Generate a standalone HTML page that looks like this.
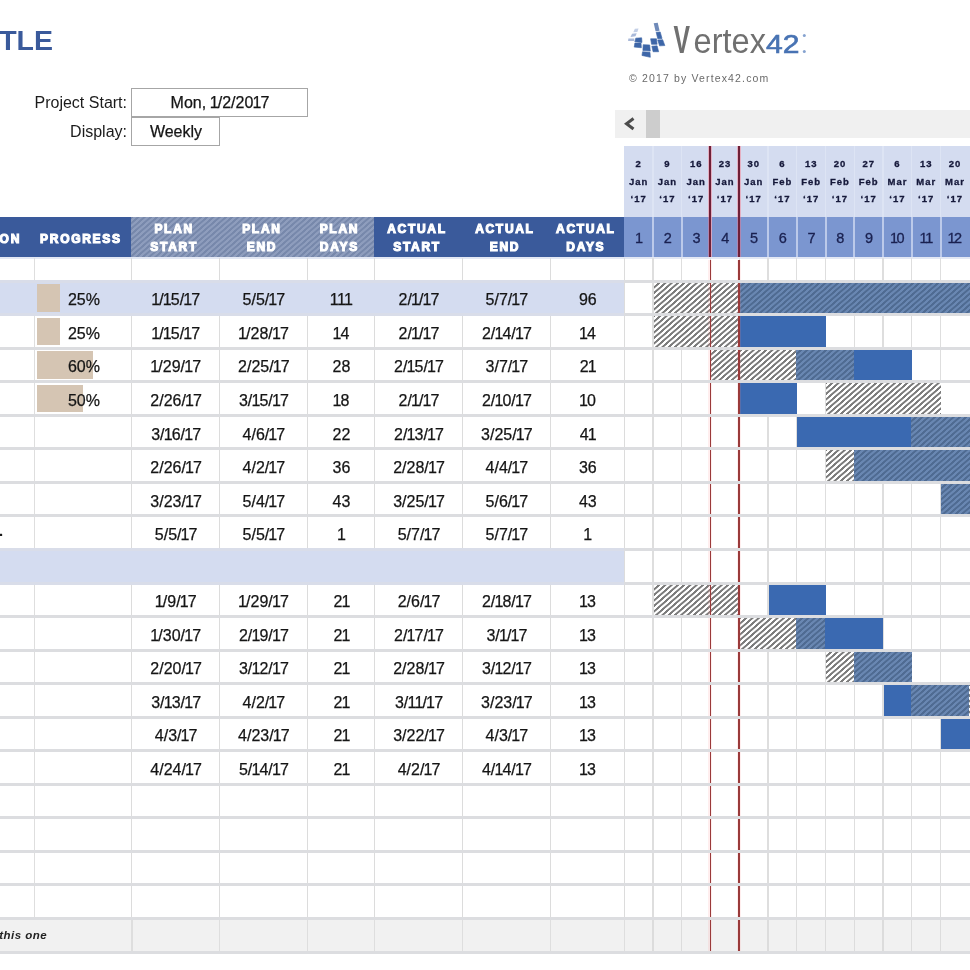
<!DOCTYPE html>
<html><head><meta charset="utf-8"><title>Project Gantt Chart</title>
<style>
html,body{margin:0;padding:0;background:#fff;}
body{width:970px;height:970px;position:relative;overflow:hidden;font-family:"Liberation Sans",sans-serif;color:#1b1b1b;}
.a{position:absolute;}
.t{position:absolute;white-space:nowrap;}
.c{position:absolute;text-align:center;white-space:nowrap;font-size:16px;line-height:20px;height:20px;color:#151515;-webkit-text-stroke:0.25px #151515;}
.c i{font-style:normal;margin:0 -0.9px;}
.h{position:absolute;text-align:center;white-space:nowrap;font-weight:bold;font-size:12px;letter-spacing:1.7px;line-height:18px;color:#fff;-webkit-text-stroke:1.1px #fff;}
.d{position:absolute;text-align:center;white-space:nowrap;font-weight:bold;font-size:9.5px;line-height:17.5px;color:#15183a;letter-spacing:1px;-webkit-text-stroke:0.3px #15183a;}
.n{position:absolute;text-align:center;white-space:nowrap;font-size:14.5px;line-height:16px;color:#1a2150;letter-spacing:-0.6px;-webkit-text-stroke:0.3px #1a2150;}
.n i{font-style:normal;margin:0 -0.9px;}
.hp{background:repeating-linear-gradient(138.7deg,#7c7c7c 0,#7c7c7c 1.5px,#fff 2.0px,#fff 3.63px,#7c7c7c 4.13px);}
.ho{background:repeating-linear-gradient(138.7deg,#4f6b92 0,#4f6b92 1.5px,#6987b2 2.0px,#6987b2 3.63px,#4f6b92 4.13px);}
.hh{background:repeating-linear-gradient(138.7deg,#7788ab 0,#7788ab 1.5px,#8e9dbd 2.0px,#8e9dbd 3.63px,#7788ab 4.13px);}
</style></head><body>

<div class="t" style="right:917px;top:24px;font-size:28.5px;line-height:32px;font-weight:bold;color:#3a5a9b;">PROJECT TITLE</div>
<div class="t" style="right:843px;top:93px;font-size:16px;line-height:20px;">Project Start:</div>
<div class="t" style="right:843px;top:122px;font-size:16px;line-height:20px;">Display:</div>
<div class="a" style="left:131.3px;top:88.2px;width:175px;height:27px;border:1px solid #a6a6a6;"></div>
<div class="a" style="left:131.3px;top:117.2px;width:87px;height:27px;border:1px solid #a6a6a6;"></div>
<div class="c" style="left:132px;width:176px;top:92.5px;">Mon, <i>1</i>/2/20<i>1</i>7</div>
<div class="c" style="left:132px;width:88px;top:121.7px;">Weekly</div>
<svg class="a" style="left:620px;top:14px;" width="60" height="50" viewBox="0 0 970 808">
<g fill="#3d66a8" stroke="#3d66a8" stroke-width="10">
<polygon points="585,295 650,290 680,395 610,400"/>
<polygon points="610,420 690,415 725,510 640,515"/>
<polygon points="495,400 590,400 600,490 510,490"/>
<polygon points="515,520 600,515 625,610 535,610"/>
<polygon points="375,495 480,500 490,600 370,590"/>
<polygon points="365,610 485,620 490,700 355,670"/>
<polygon points="255,390 350,385 355,460 240,450"/>
<polygon points="240,470 340,470 345,545 230,535"/>
</g>
<polygon points="545,150 610,140 640,270 575,280" fill="#6f8ab9"/>
<g fill="#a9b9d9">
<polygon points="195,320 270,310 250,360 170,370"/>
<polygon points="135,395 230,395 230,435 130,435"/>
</g>
<polygon points="240,240 300,235 280,290 215,295" fill="#c3cfe6"/>
</svg>
<svg class="a" style="left:670px;top:14px;" width="150" height="50" viewBox="0 0 150 50">
<text font-family="Liberation Sans, sans-serif" fill="#707070">
<tspan x="3.5" y="39.2" font-size="39" font-weight="bold" textLength="16.5" lengthAdjust="spacingAndGlyphs">V</tspan><tspan x="23.5" y="39.2" font-size="35.6" textLength="72.5" lengthAdjust="spacingAndGlyphs">ertex</tspan><tspan x="96" y="39.2" font-size="25.8" fill="#4873b3" stroke="#4873b3" stroke-width="0.6" textLength="33.5" lengthAdjust="spacingAndGlyphs">42</tspan></text>
<circle cx="134.3" cy="21.5" r="1.5" fill="#86a3d0"/><circle cx="134.3" cy="37.5" r="1.5" fill="#86a3d0"/>
</svg>
<div class="t" style="left:629px;top:72px;font-size:10.5px;line-height:13px;letter-spacing:1.15px;color:#6a6a6a;">© 2017 by Vertex42.com</div>
<div class="a" style="left:614.5px;top:110px;width:356px;height:28.3px;background:#f0f0f0;"></div>
<div class="a" style="left:646px;top:110px;width:14px;height:28.3px;background:#cdcdcd;"></div>
<svg class="a" style="left:622px;top:116px;" width="14" height="16" viewBox="0 0 14 16"><polyline points="11.5,2.5 4.5,7.7 11.5,13" fill="none" stroke="#4c4c4c" stroke-width="3"/></svg>
<div class="a" style="left:623.5px;top:146px;width:346.70000000000005px;height:70.5px;background:#d4dcf0;"></div>
<div class="a" style="left:623.5px;top:216.5px;width:346.70000000000005px;height:40.6px;background:#7b96d0;"></div>
<div class="d" style="left:624.30px;width:28.75px;top:155.3px;">2<br>Jan<br>‘17</div>
<div class="n" style="left:624.30px;width:28.75px;top:229.5px;"><i>1</i></div>
<div class="a" style="left:652.25px;top:146px;width:1.4px;height:70.5px;background:#dde4f4;"></div>
<div class="a" style="left:652.15px;top:216.5px;width:2px;height:40.6px;background:#bccaea;"></div>
<div class="d" style="left:653.05px;width:28.75px;top:155.3px;">9<br>Jan<br>‘17</div>
<div class="n" style="left:653.05px;width:28.75px;top:229.5px;">2</div>
<div class="a" style="left:681.00px;top:146px;width:1.4px;height:70.5px;background:#dde4f4;"></div>
<div class="a" style="left:680.90px;top:216.5px;width:2px;height:40.6px;background:#bccaea;"></div>
<div class="d" style="left:681.80px;width:28.75px;top:155.3px;">16<br>Jan<br>‘17</div>
<div class="n" style="left:681.80px;width:28.75px;top:229.5px;">3</div>
<div class="a" style="left:709.75px;top:146px;width:1.4px;height:70.5px;background:#dde4f4;"></div>
<div class="a" style="left:709.65px;top:216.5px;width:2px;height:40.6px;background:#bccaea;"></div>
<div class="d" style="left:710.55px;width:28.75px;top:155.3px;">23<br>Jan<br>‘17</div>
<div class="n" style="left:710.55px;width:28.75px;top:229.5px;">4</div>
<div class="a" style="left:738.50px;top:146px;width:1.4px;height:70.5px;background:#dde4f4;"></div>
<div class="a" style="left:738.40px;top:216.5px;width:2px;height:40.6px;background:#bccaea;"></div>
<div class="d" style="left:739.30px;width:28.75px;top:155.3px;">30<br>Jan<br>‘17</div>
<div class="n" style="left:739.30px;width:28.75px;top:229.5px;">5</div>
<div class="a" style="left:767.25px;top:146px;width:1.4px;height:70.5px;background:#dde4f4;"></div>
<div class="a" style="left:767.15px;top:216.5px;width:2px;height:40.6px;background:#bccaea;"></div>
<div class="d" style="left:768.05px;width:28.75px;top:155.3px;">6<br>Feb<br>‘17</div>
<div class="n" style="left:768.05px;width:28.75px;top:229.5px;">6</div>
<div class="a" style="left:796.00px;top:146px;width:1.4px;height:70.5px;background:#dde4f4;"></div>
<div class="a" style="left:795.90px;top:216.5px;width:2px;height:40.6px;background:#bccaea;"></div>
<div class="d" style="left:796.80px;width:28.75px;top:155.3px;">13<br>Feb<br>‘17</div>
<div class="n" style="left:796.80px;width:28.75px;top:229.5px;">7</div>
<div class="a" style="left:824.75px;top:146px;width:1.4px;height:70.5px;background:#dde4f4;"></div>
<div class="a" style="left:824.65px;top:216.5px;width:2px;height:40.6px;background:#bccaea;"></div>
<div class="d" style="left:825.55px;width:28.75px;top:155.3px;">20<br>Feb<br>‘17</div>
<div class="n" style="left:825.55px;width:28.75px;top:229.5px;">8</div>
<div class="a" style="left:853.50px;top:146px;width:1.4px;height:70.5px;background:#dde4f4;"></div>
<div class="a" style="left:853.40px;top:216.5px;width:2px;height:40.6px;background:#bccaea;"></div>
<div class="d" style="left:854.30px;width:28.75px;top:155.3px;">27<br>Feb<br>‘17</div>
<div class="n" style="left:854.30px;width:28.75px;top:229.5px;">9</div>
<div class="a" style="left:882.25px;top:146px;width:1.4px;height:70.5px;background:#dde4f4;"></div>
<div class="a" style="left:882.15px;top:216.5px;width:2px;height:40.6px;background:#bccaea;"></div>
<div class="d" style="left:883.05px;width:28.75px;top:155.3px;">6<br>Mar<br>‘17</div>
<div class="n" style="left:883.05px;width:28.75px;top:229.5px;"><i>1</i>0</div>
<div class="a" style="left:911.00px;top:146px;width:1.4px;height:70.5px;background:#dde4f4;"></div>
<div class="a" style="left:910.90px;top:216.5px;width:2px;height:40.6px;background:#bccaea;"></div>
<div class="d" style="left:911.80px;width:28.75px;top:155.3px;">13<br>Mar<br>‘17</div>
<div class="n" style="left:911.80px;width:28.75px;top:229.5px;"><i>1</i><i>1</i></div>
<div class="a" style="left:939.75px;top:146px;width:1.4px;height:70.5px;background:#dde4f4;"></div>
<div class="a" style="left:939.65px;top:216.5px;width:2px;height:40.6px;background:#bccaea;"></div>
<div class="d" style="left:940.55px;width:28.75px;top:155.3px;">20<br>Mar<br>‘17</div>
<div class="n" style="left:940.55px;width:28.75px;top:229.5px;"><i>1</i>2</div>
<div class="a" style="left:0;top:216.5px;width:623.5px;height:40.6px;background:#3a5a9b;"></div>
<div class="a hh" style="left:131.20000000000002px;top:216.5px;width:243.29999999999998px;height:40.6px;"></div>
<div class="h" style="left:-29px;width:50px;top:229.5px;text-align:right;">ON</div>
<div class="h" style="left:32.0px;width:97.80000000000001px;top:229.5px;">PROGRESS</div>
<div class="h" style="left:130.3px;width:87.69999999999999px;top:220.3px;">PLAN<br>START</div>
<div class="h" style="left:218.0px;width:87.80000000000001px;top:220.3px;">PLAN<br>END</div>
<div class="h" style="left:305.8px;width:67.19999999999999px;top:220.3px;">PLAN<br>DAYS</div>
<div class="h" style="left:373.0px;width:88.0px;top:220.3px;">ACTUAL<br>START</div>
<div class="h" style="left:461.0px;width:87.79999999999995px;top:220.3px;">ACTUAL<br>END</div>
<div class="h" style="left:548.8px;width:74.0px;top:220.3px;">ACTUAL<br>DAYS</div>
<div class="a" style="left:0;top:257.1px;width:970px;height:2px;background:#e3e8f4;"></div>
<div class="a" style="left:34px;top:258px;width:1.2px;height:694.00px;background:#dedede;"></div>
<div class="a" style="left:131.15px;top:258px;width:1.3px;height:694.00px;background:#dcdcdc;"></div>
<div class="a" style="left:218.85px;top:258px;width:1.3px;height:694.00px;background:#dcdcdc;"></div>
<div class="a" style="left:306.65px;top:258px;width:1.3px;height:694.00px;background:#dcdcdc;"></div>
<div class="a" style="left:373.85px;top:258px;width:1.3px;height:694.00px;background:#dcdcdc;"></div>
<div class="a" style="left:461.85px;top:258px;width:1.3px;height:694.00px;background:#dcdcdc;"></div>
<div class="a" style="left:549.65px;top:258px;width:1.3px;height:694.00px;background:#dcdcdc;"></div>
<div class="a" style="left:623.65px;top:258px;width:1.3px;height:694.00px;background:#dcdcdc;"></div>
<div class="a" style="left:652.40px;top:258px;width:1.3px;height:694.00px;background:#dedede;"></div>
<div class="a" style="left:681.15px;top:258px;width:1.3px;height:694.00px;background:#dedede;"></div>
<div class="a" style="left:709.90px;top:258px;width:1.3px;height:694.00px;background:#dedede;"></div>
<div class="a" style="left:738.65px;top:258px;width:1.3px;height:694.00px;background:#dedede;"></div>
<div class="a" style="left:767.40px;top:258px;width:1.3px;height:694.00px;background:#dedede;"></div>
<div class="a" style="left:796.15px;top:258px;width:1.3px;height:694.00px;background:#dedede;"></div>
<div class="a" style="left:824.90px;top:258px;width:1.3px;height:694.00px;background:#dedede;"></div>
<div class="a" style="left:853.65px;top:258px;width:1.3px;height:694.00px;background:#dedede;"></div>
<div class="a" style="left:882.40px;top:258px;width:1.3px;height:694.00px;background:#dedede;"></div>
<div class="a" style="left:911.15px;top:258px;width:1.3px;height:694.00px;background:#dedede;"></div>
<div class="a" style="left:939.90px;top:258px;width:1.3px;height:694.00px;background:#dedede;"></div>
<div class="a" style="left:0;top:281.20px;width:623.5px;height:33.54px;background:#d4dcf0;"></div>
<div class="a" style="left:0;top:549.52px;width:623.5px;height:33.54px;background:#d4dcf0;"></div>
<div class="a" style="left:0;top:918.46px;width:970px;height:33.54px;background:#f1f1f1;"></div>
<div class="a" style="left:131.00px;top:918.46px;width:1.6px;height:33.54px;background:#dedede;"></div>
<div class="a" style="left:218.70px;top:918.46px;width:1.6px;height:33.54px;background:#dedede;"></div>
<div class="a" style="left:306.50px;top:918.46px;width:1.6px;height:33.54px;background:#dedede;"></div>
<div class="a" style="left:373.70px;top:918.46px;width:1.6px;height:33.54px;background:#dedede;"></div>
<div class="a" style="left:461.70px;top:918.46px;width:1.6px;height:33.54px;background:#dedede;"></div>
<div class="a" style="left:549.50px;top:918.46px;width:1.6px;height:33.54px;background:#dedede;"></div>
<div class="a" style="left:623.50px;top:918.46px;width:1.6px;height:33.54px;background:#dedede;"></div>
<div class="a" style="left:652.35px;top:918.46px;width:1.4px;height:33.54px;background:#dcdcdc;"></div>
<div class="a" style="left:681.10px;top:918.46px;width:1.4px;height:33.54px;background:#dcdcdc;"></div>
<div class="a" style="left:709.85px;top:918.46px;width:1.4px;height:33.54px;background:#dcdcdc;"></div>
<div class="a" style="left:738.60px;top:918.46px;width:1.4px;height:33.54px;background:#dcdcdc;"></div>
<div class="a" style="left:767.35px;top:918.46px;width:1.4px;height:33.54px;background:#dcdcdc;"></div>
<div class="a" style="left:796.10px;top:918.46px;width:1.4px;height:33.54px;background:#dcdcdc;"></div>
<div class="a" style="left:824.85px;top:918.46px;width:1.4px;height:33.54px;background:#dcdcdc;"></div>
<div class="a" style="left:853.60px;top:918.46px;width:1.4px;height:33.54px;background:#dcdcdc;"></div>
<div class="a" style="left:882.35px;top:918.46px;width:1.4px;height:33.54px;background:#dcdcdc;"></div>
<div class="a" style="left:911.10px;top:918.46px;width:1.4px;height:33.54px;background:#dcdcdc;"></div>
<div class="a" style="left:939.85px;top:918.46px;width:1.4px;height:33.54px;background:#dcdcdc;"></div>
<div class="a hp" style="left:653.65px;top:281.20px;width:85.95px;height:33.54px;"></div>
<div class="a ho" style="left:738.90px;top:281.20px;width:231.10px;height:33.54px;"></div>
<div class="a hp" style="left:653.65px;top:314.74px;width:85.95px;height:33.54px;"></div>
<div class="a " style="left:738.90px;top:314.74px;width:86.95px;height:33.54px;background:#3a69b1;"></div>
<div class="a hp" style="left:711.15px;top:348.28px;width:85.95px;height:33.54px;"></div>
<div class="a ho" style="left:796.40px;top:348.28px;width:58.20px;height:33.54px;"></div>
<div class="a " style="left:853.90px;top:348.28px;width:58.20px;height:33.54px;background:#3a69b1;"></div>
<div class="a " style="left:739.90px;top:381.82px;width:57.20px;height:33.54px;background:#3a69b1;"></div>
<div class="a hp" style="left:826.15px;top:381.82px;width:114.70px;height:33.54px;"></div>
<div class="a " style="left:797.40px;top:415.36px;width:114.70px;height:33.54px;background:#3a69b1;"></div>
<div class="a ho" style="left:911.40px;top:415.36px;width:58.60px;height:33.54px;"></div>
<div class="a hp" style="left:826.15px;top:448.90px;width:28.45px;height:33.54px;"></div>
<div class="a ho" style="left:853.90px;top:448.90px;width:116.10px;height:33.54px;"></div>
<div class="a ho" style="left:941.15px;top:482.44px;width:28.85px;height:33.54px;"></div>
<div class="a hp" style="left:653.65px;top:583.06px;width:85.95px;height:33.54px;"></div>
<div class="a " style="left:768.65px;top:583.06px;width:57.20px;height:33.54px;background:#3a69b1;"></div>
<div class="a hp" style="left:739.90px;top:616.60px;width:57.20px;height:33.54px;"></div>
<div class="a ho" style="left:796.40px;top:616.60px;width:29.45px;height:33.54px;"></div>
<div class="a " style="left:825.15px;top:616.60px;width:58.20px;height:33.54px;background:#3a69b1;"></div>
<div class="a hp" style="left:826.15px;top:650.14px;width:28.45px;height:33.54px;"></div>
<div class="a ho" style="left:853.90px;top:650.14px;width:58.20px;height:33.54px;"></div>
<div class="a " style="left:883.65px;top:683.68px;width:28.45px;height:33.54px;background:#3a69b1;"></div>
<div class="a ho" style="left:911.40px;top:683.68px;width:58.20px;height:33.54px;"></div>
<div class="a hp" style="left:968.90px;top:683.68px;width:1.10px;height:33.54px;"></div>
<div class="a " style="left:941.15px;top:717.22px;width:28.85px;height:33.54px;background:#3a69b1;"></div>
<div class="a" style="left:708.05px;top:145.5px;width:4.2px;height:111.60000000000002px;background:rgba(255,110,125,0.4);"></div>
<div class="a" style="left:709.25px;top:145.5px;width:1.8px;height:111.60000000000002px;background:#6e2038;"></div>
<div class="a" style="left:708.25px;top:259.5px;width:3.8px;height:692.50px;background:rgba(255,140,140,0.15);"></div>
<div class="a" style="left:709.50px;top:259.5px;width:1.3px;height:692.50px;background:#9a3a3a;"></div>
<div class="a" style="left:736.80px;top:145.5px;width:4.2px;height:111.60000000000002px;background:rgba(255,110,125,0.4);"></div>
<div class="a" style="left:738.00px;top:145.5px;width:1.8px;height:111.60000000000002px;background:#6e2038;"></div>
<div class="a" style="left:737.00px;top:259.5px;width:3.8px;height:692.50px;background:rgba(255,140,140,0.15);"></div>
<div class="a" style="left:738.25px;top:259.5px;width:1.3px;height:692.50px;background:#9a3a3a;"></div>
<div class="a" style="left:0;top:279.70px;width:970px;height:3px;background:#dcdde0;"></div>
<div class="a" style="left:0;top:279.70px;width:623.5px;height:3px;background:#d9dde9;"></div>
<div class="a" style="left:0;top:313.24px;width:970px;height:3px;background:#dcdde0;"></div>
<div class="a" style="left:0;top:313.24px;width:623.5px;height:3px;background:#d9dde9;"></div>
<div class="a" style="left:0;top:346.78px;width:970px;height:3px;background:#dcdde0;"></div>
<div class="a" style="left:0;top:380.32px;width:970px;height:3px;background:#dcdde0;"></div>
<div class="a" style="left:0;top:413.86px;width:970px;height:3px;background:#dcdde0;"></div>
<div class="a" style="left:0;top:447.40px;width:970px;height:3px;background:#dcdde0;"></div>
<div class="a" style="left:0;top:480.94px;width:970px;height:3px;background:#dcdde0;"></div>
<div class="a" style="left:0;top:514.48px;width:970px;height:3px;background:#dcdde0;"></div>
<div class="a" style="left:0;top:548.02px;width:970px;height:3px;background:#dcdde0;"></div>
<div class="a" style="left:0;top:548.02px;width:623.5px;height:3px;background:#d9dde9;"></div>
<div class="a" style="left:0;top:581.56px;width:970px;height:3px;background:#dcdde0;"></div>
<div class="a" style="left:0;top:581.56px;width:623.5px;height:3px;background:#d9dde9;"></div>
<div class="a" style="left:0;top:615.10px;width:970px;height:3px;background:#dcdde0;"></div>
<div class="a" style="left:0;top:648.64px;width:970px;height:3px;background:#dcdde0;"></div>
<div class="a" style="left:0;top:682.18px;width:970px;height:3px;background:#dcdde0;"></div>
<div class="a" style="left:0;top:715.72px;width:970px;height:3px;background:#dcdde0;"></div>
<div class="a" style="left:0;top:749.26px;width:970px;height:3px;background:#dcdde0;"></div>
<div class="a" style="left:0;top:782.80px;width:970px;height:3px;background:#dcdde0;"></div>
<div class="a" style="left:0;top:816.34px;width:970px;height:3px;background:#dcdde0;"></div>
<div class="a" style="left:0;top:849.88px;width:970px;height:3px;background:#dcdde0;"></div>
<div class="a" style="left:0;top:883.42px;width:970px;height:3px;background:#dcdde0;"></div>
<div class="a" style="left:0;top:916.96px;width:970px;height:3px;background:#dcdde0;"></div>
<div class="a" style="left:0;top:950.50px;width:970px;height:3px;background:#dcdde0;"></div>
<div class="a" style="left:36.8px;top:284.40px;width:23.2px;height:27.14px;background:#d5c5b3;"></div>
<div class="c" style="left:35.0px;width:97.80000000000001px;top:290.37px;">25%</div>
<div class="c" style="left:132.3px;width:87.69999999999999px;top:290.37px;"><i>1</i>/<i>1</i>5/<i>1</i>7</div>
<div class="c" style="left:220.0px;width:87.80000000000001px;top:290.37px;">5/5/<i>1</i>7</div>
<div class="c" style="left:307.8px;width:67.19999999999999px;top:290.37px;"><i>1</i><i>1</i><i>1</i></div>
<div class="c" style="left:375.0px;width:88.0px;top:290.37px;">2/<i>1</i>/<i>1</i>7</div>
<div class="c" style="left:463.0px;width:87.79999999999995px;top:290.37px;">5/7/<i>1</i>7</div>
<div class="c" style="left:550.8px;width:74.0px;top:290.37px;">96</div>
<div class="a" style="left:36.8px;top:317.94px;width:23.2px;height:27.14px;background:#d5c5b3;"></div>
<div class="c" style="left:35.0px;width:97.80000000000001px;top:323.91px;">25%</div>
<div class="c" style="left:132.3px;width:87.69999999999999px;top:323.91px;"><i>1</i>/<i>1</i>5/<i>1</i>7</div>
<div class="c" style="left:220.0px;width:87.80000000000001px;top:323.91px;"><i>1</i>/28/<i>1</i>7</div>
<div class="c" style="left:307.8px;width:67.19999999999999px;top:323.91px;"><i>1</i>4</div>
<div class="c" style="left:375.0px;width:88.0px;top:323.91px;">2/<i>1</i>/<i>1</i>7</div>
<div class="c" style="left:463.0px;width:87.79999999999995px;top:323.91px;">2/<i>1</i>4/<i>1</i>7</div>
<div class="c" style="left:550.8px;width:74.0px;top:323.91px;"><i>1</i>4</div>
<div class="a" style="left:36.8px;top:351.48px;width:55.8px;height:27.14px;background:#d5c5b3;"></div>
<div class="c" style="left:35.0px;width:97.80000000000001px;top:357.45px;">60%</div>
<div class="c" style="left:132.3px;width:87.69999999999999px;top:357.45px;"><i>1</i>/29/<i>1</i>7</div>
<div class="c" style="left:220.0px;width:87.80000000000001px;top:357.45px;">2/25/<i>1</i>7</div>
<div class="c" style="left:307.8px;width:67.19999999999999px;top:357.45px;">28</div>
<div class="c" style="left:375.0px;width:88.0px;top:357.45px;">2/<i>1</i>5/<i>1</i>7</div>
<div class="c" style="left:463.0px;width:87.79999999999995px;top:357.45px;">3/7/<i>1</i>7</div>
<div class="c" style="left:550.8px;width:74.0px;top:357.45px;">2<i>1</i></div>
<div class="a" style="left:36.8px;top:385.02px;width:46.5px;height:27.14px;background:#d5c5b3;"></div>
<div class="c" style="left:35.0px;width:97.80000000000001px;top:390.99px;">50%</div>
<div class="c" style="left:132.3px;width:87.69999999999999px;top:390.99px;">2/26/<i>1</i>7</div>
<div class="c" style="left:220.0px;width:87.80000000000001px;top:390.99px;">3/<i>1</i>5/<i>1</i>7</div>
<div class="c" style="left:307.8px;width:67.19999999999999px;top:390.99px;"><i>1</i>8</div>
<div class="c" style="left:375.0px;width:88.0px;top:390.99px;">2/<i>1</i>/<i>1</i>7</div>
<div class="c" style="left:463.0px;width:87.79999999999995px;top:390.99px;">2/<i>1</i>0/<i>1</i>7</div>
<div class="c" style="left:550.8px;width:74.0px;top:390.99px;"><i>1</i>0</div>
<div class="c" style="left:132.3px;width:87.69999999999999px;top:424.53px;">3/<i>1</i>6/<i>1</i>7</div>
<div class="c" style="left:220.0px;width:87.80000000000001px;top:424.53px;">4/6/<i>1</i>7</div>
<div class="c" style="left:307.8px;width:67.19999999999999px;top:424.53px;">22</div>
<div class="c" style="left:375.0px;width:88.0px;top:424.53px;">2/<i>1</i>3/<i>1</i>7</div>
<div class="c" style="left:463.0px;width:87.79999999999995px;top:424.53px;">3/25/<i>1</i>7</div>
<div class="c" style="left:550.8px;width:74.0px;top:424.53px;">4<i>1</i></div>
<div class="c" style="left:132.3px;width:87.69999999999999px;top:458.07px;">2/26/<i>1</i>7</div>
<div class="c" style="left:220.0px;width:87.80000000000001px;top:458.07px;">4/2/<i>1</i>7</div>
<div class="c" style="left:307.8px;width:67.19999999999999px;top:458.07px;">36</div>
<div class="c" style="left:375.0px;width:88.0px;top:458.07px;">2/28/<i>1</i>7</div>
<div class="c" style="left:463.0px;width:87.79999999999995px;top:458.07px;">4/4/<i>1</i>7</div>
<div class="c" style="left:550.8px;width:74.0px;top:458.07px;">36</div>
<div class="c" style="left:132.3px;width:87.69999999999999px;top:491.61px;">3/23/<i>1</i>7</div>
<div class="c" style="left:220.0px;width:87.80000000000001px;top:491.61px;">5/4/<i>1</i>7</div>
<div class="c" style="left:307.8px;width:67.19999999999999px;top:491.61px;">43</div>
<div class="c" style="left:375.0px;width:88.0px;top:491.61px;">3/25/<i>1</i>7</div>
<div class="c" style="left:463.0px;width:87.79999999999995px;top:491.61px;">5/6/<i>1</i>7</div>
<div class="c" style="left:550.8px;width:74.0px;top:491.61px;">43</div>
<div class="c" style="left:132.3px;width:87.69999999999999px;top:525.15px;">5/5/<i>1</i>7</div>
<div class="c" style="left:220.0px;width:87.80000000000001px;top:525.15px;">5/5/<i>1</i>7</div>
<div class="c" style="left:307.8px;width:67.19999999999999px;top:525.15px;"><i>1</i></div>
<div class="c" style="left:375.0px;width:88.0px;top:525.15px;">5/7/<i>1</i>7</div>
<div class="c" style="left:463.0px;width:87.79999999999995px;top:525.15px;">5/7/<i>1</i>7</div>
<div class="c" style="left:550.8px;width:74.0px;top:525.15px;"><i>1</i></div>
<div class="c" style="left:132.3px;width:87.69999999999999px;top:592.23px;"><i>1</i>/9/<i>1</i>7</div>
<div class="c" style="left:220.0px;width:87.80000000000001px;top:592.23px;"><i>1</i>/29/<i>1</i>7</div>
<div class="c" style="left:307.8px;width:67.19999999999999px;top:592.23px;">2<i>1</i></div>
<div class="c" style="left:375.0px;width:88.0px;top:592.23px;">2/6/<i>1</i>7</div>
<div class="c" style="left:463.0px;width:87.79999999999995px;top:592.23px;">2/<i>1</i>8/<i>1</i>7</div>
<div class="c" style="left:550.8px;width:74.0px;top:592.23px;"><i>1</i>3</div>
<div class="c" style="left:132.3px;width:87.69999999999999px;top:625.77px;"><i>1</i>/30/<i>1</i>7</div>
<div class="c" style="left:220.0px;width:87.80000000000001px;top:625.77px;">2/<i>1</i>9/<i>1</i>7</div>
<div class="c" style="left:307.8px;width:67.19999999999999px;top:625.77px;">2<i>1</i></div>
<div class="c" style="left:375.0px;width:88.0px;top:625.77px;">2/<i>1</i>7/<i>1</i>7</div>
<div class="c" style="left:463.0px;width:87.79999999999995px;top:625.77px;">3/<i>1</i>/<i>1</i>7</div>
<div class="c" style="left:550.8px;width:74.0px;top:625.77px;"><i>1</i>3</div>
<div class="c" style="left:132.3px;width:87.69999999999999px;top:659.31px;">2/20/<i>1</i>7</div>
<div class="c" style="left:220.0px;width:87.80000000000001px;top:659.31px;">3/<i>1</i>2/<i>1</i>7</div>
<div class="c" style="left:307.8px;width:67.19999999999999px;top:659.31px;">2<i>1</i></div>
<div class="c" style="left:375.0px;width:88.0px;top:659.31px;">2/28/<i>1</i>7</div>
<div class="c" style="left:463.0px;width:87.79999999999995px;top:659.31px;">3/<i>1</i>2/<i>1</i>7</div>
<div class="c" style="left:550.8px;width:74.0px;top:659.31px;"><i>1</i>3</div>
<div class="c" style="left:132.3px;width:87.69999999999999px;top:692.85px;">3/<i>1</i>3/<i>1</i>7</div>
<div class="c" style="left:220.0px;width:87.80000000000001px;top:692.85px;">4/2/<i>1</i>7</div>
<div class="c" style="left:307.8px;width:67.19999999999999px;top:692.85px;">2<i>1</i></div>
<div class="c" style="left:375.0px;width:88.0px;top:692.85px;">3/<i>1</i><i>1</i>/<i>1</i>7</div>
<div class="c" style="left:463.0px;width:87.79999999999995px;top:692.85px;">3/23/<i>1</i>7</div>
<div class="c" style="left:550.8px;width:74.0px;top:692.85px;"><i>1</i>3</div>
<div class="c" style="left:132.3px;width:87.69999999999999px;top:726.39px;">4/3/<i>1</i>7</div>
<div class="c" style="left:220.0px;width:87.80000000000001px;top:726.39px;">4/23/<i>1</i>7</div>
<div class="c" style="left:307.8px;width:67.19999999999999px;top:726.39px;">2<i>1</i></div>
<div class="c" style="left:375.0px;width:88.0px;top:726.39px;">3/22/<i>1</i>7</div>
<div class="c" style="left:463.0px;width:87.79999999999995px;top:726.39px;">4/3/<i>1</i>7</div>
<div class="c" style="left:550.8px;width:74.0px;top:726.39px;"><i>1</i>3</div>
<div class="c" style="left:132.3px;width:87.69999999999999px;top:759.93px;">4/24/<i>1</i>7</div>
<div class="c" style="left:220.0px;width:87.80000000000001px;top:759.93px;">5/<i>1</i>4/<i>1</i>7</div>
<div class="c" style="left:307.8px;width:67.19999999999999px;top:759.93px;">2<i>1</i></div>
<div class="c" style="left:375.0px;width:88.0px;top:759.93px;">4/2/<i>1</i>7</div>
<div class="c" style="left:463.0px;width:87.79999999999995px;top:759.93px;">4/<i>1</i>4/<i>1</i>7</div>
<div class="c" style="left:550.8px;width:74.0px;top:759.93px;"><i>1</i>3</div>
<div class="t" style="left:-1px;top:520.75px;font-size:15px;line-height:20px;font-weight:bold;">.</div>
<div class="t" style="right:923px;top:927.73px;font-style:italic;font-weight:bold;font-size:11.5px;letter-spacing:0.45px;line-height:14px;color:#222;">instead of this one</div>
</body></html>
